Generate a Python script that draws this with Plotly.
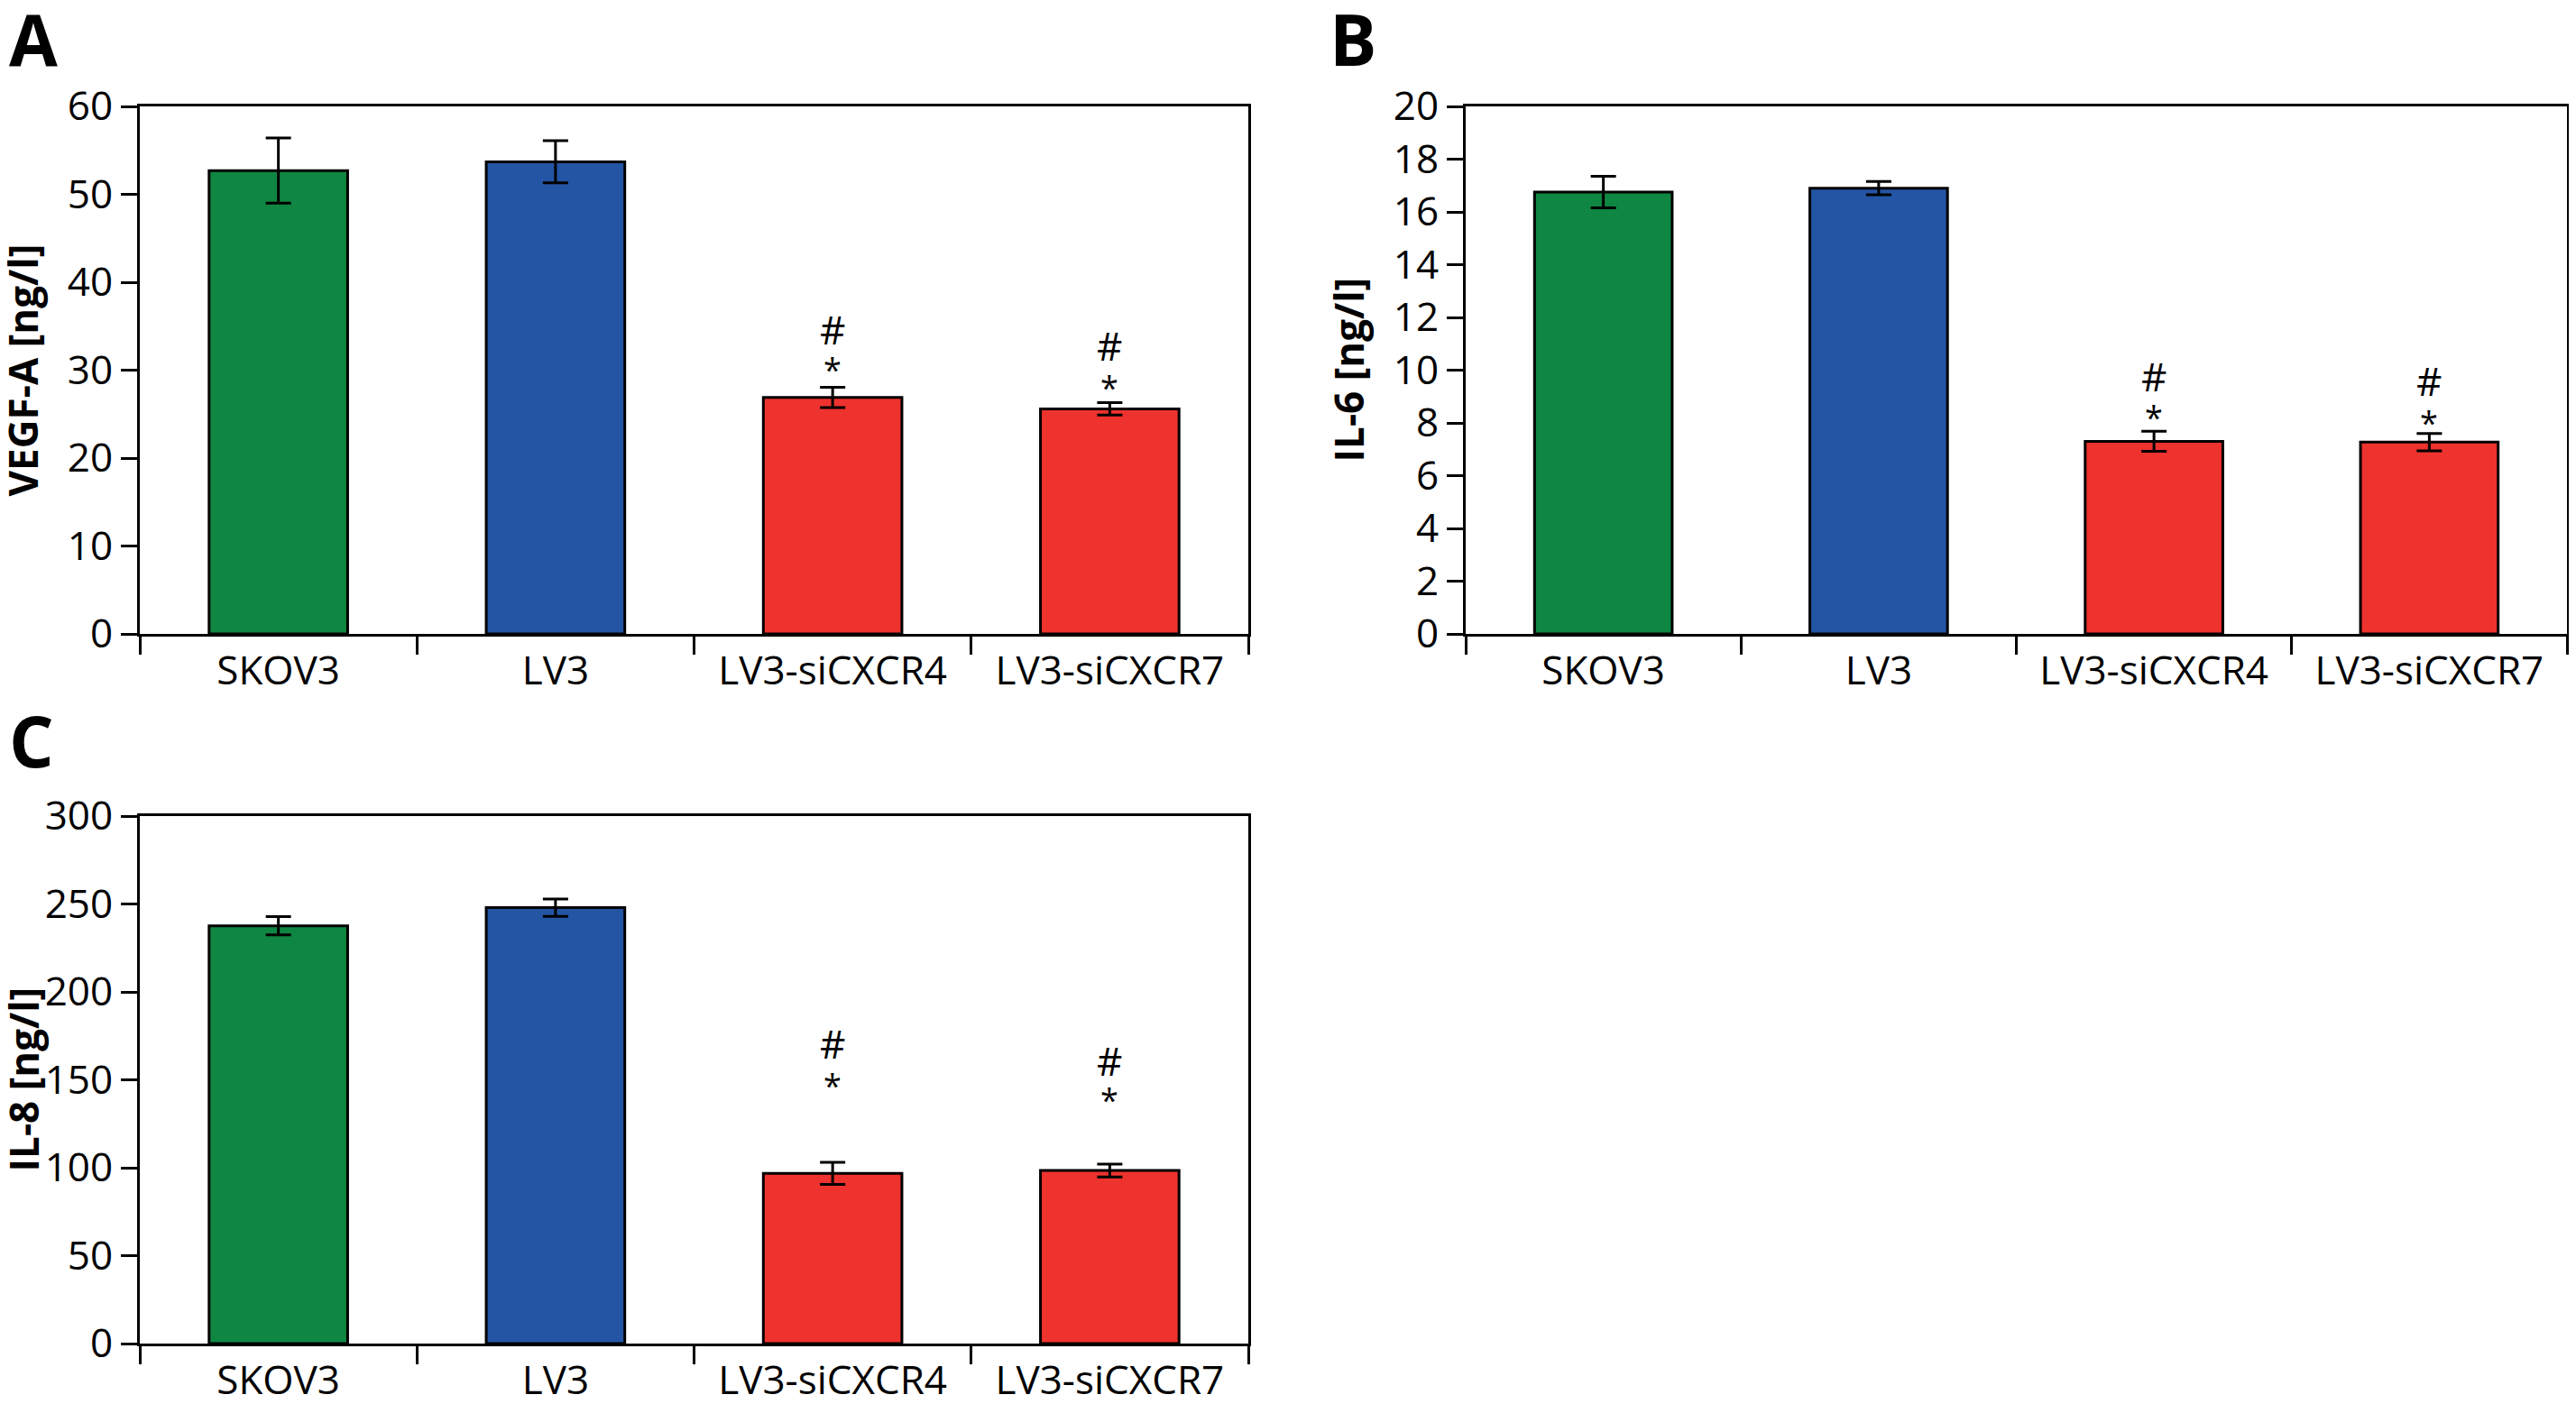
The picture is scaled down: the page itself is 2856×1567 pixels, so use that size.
import plotly.graph_objects as go

groups = ["SKOV3", "LV3", "LV3-siCXCR4", "LV3-siCXCR7"]
colors = ["#0f8641", "#2455a4", "#ee322e", "#ee322e"]

vegf_mean = [52.7, 53.7, 26.9, 25.6]
vegf_err = [3.7, 2.4, 1.15, 0.7]
il6_mean = [16.75, 16.9, 7.3, 7.27]
il6_err = [0.6, 0.25, 0.38, 0.33]
il8_mean = [237.6, 247.9, 96.8, 98.4]
il8_err = [5.2, 4.9, 6.3, 3.7]

# heights of the significance marks (data units)
vegf_hash = [None, None, 34.7, 32.8]
vegf_star = [None, None, 30.9, 28.9]
il6_hash = [None, None, 9.77, 9.6]
il6_star = [None, None, 8.48, 8.29]
il8_hash = [None, None, 171, 161]
il8_star = [None, None, 151, 143]

# page has an 8px body margin, so the figure is a bit smaller than the window
PAD = 8
W, H = 2856 - 2 * PAD, 1567 - 2 * PAD
FONT = "Open Sans, Noto Sans, sans-serif"
TICK_FONT = dict(family=FONT, size=44, color="black")


def fx(px):
    return min(1.0, max(0.0, (px - PAD) / W))


def fy(px):
    return min(1.0, max(0.0, 1 - (px - PAD) / H))


panels = [
    # letter, title, means, errs, hash, star, ymax, dtick, plot x px, plot y px, letter x/y px
    ("A", "VEGF-A [ng/l]", vegf_mean, vegf_err, vegf_hash, vegf_star, 60, 10, (155, 1384), (118, 703), (8, 8)),
    ("B", "IL-6 [ng/l]", il6_mean, il6_err, il6_hash, il6_star, 20, 2, (1625, 2846), (118, 703), (1472, 8)),
    ("C", "IL-8 [ng/l]", il8_mean, il8_err, il8_hash, il8_star, 300, 50, (155, 1384), (905, 1490), (8, 786)),
]

fig = go.Figure()
annotations = []
for i, (letter, title, means, errs, hashes, stars, ymax, dtick, xpx, ypx, lpx) in enumerate(panels):
    n = "" if i == 0 else str(i + 1)
    fig.add_trace(go.Bar(
        x=groups, y=means,
        marker=dict(color=colors, line=dict(color="black", width=3)),
        width=0.5,
        error_y=dict(type="data", array=errs, color="black", thickness=3, width=14),
        xaxis="x" + n, yaxis="y" + n,
        showlegend=False,
    ))
    fig.update_layout(**{
        "xaxis" + n: dict(
            domain=[fx(xpx[0]), fx(xpx[1])], anchor="y" + n, type="category",
            showline=True, linecolor="black", linewidth=3, mirror=True,
            ticks="outside", ticklen=20, tickwidth=3, tickcolor="black",
            tickson="boundaries", tickfont=TICK_FONT, showgrid=False,
        ),
        "yaxis" + n: dict(
            domain=[fy(ypx[1]), fy(ypx[0])], anchor="x" + n, range=[0, ymax], dtick=dtick,
            showline=True, linecolor="black", linewidth=3, mirror=True,
            ticks="outside", ticklen=18, tickwidth=3, tickcolor="black",
            tickfont=TICK_FONT, showgrid=False, zeroline=False,
        ),
    })
    # y axis title
    annotations.append(dict(
        text="<b>" + title + "</b>", textangle=-90,
        x=fx(xpx[0] - 130), y=fy((ypx[0] + ypx[1]) / 2), xref="paper", yref="paper",
        xanchor="center", yanchor="middle",
        showarrow=False, font=dict(family=FONT, size=44, color="black"),
    ))
    # panel letter
    annotations.append(dict(
        text="<b>" + letter + "</b>",
        x=fx(lpx[0]), y=fy(lpx[1]), yshift=20,
        xref="paper", yref="paper", xanchor="left", yanchor="top",
        showarrow=False, font=dict(family=FONT, size=78, color="black"),
    ))
    for g, hy, sy in zip(groups, hashes, stars):
        if hy is not None:
            annotations.append(dict(
                text="#", x=g, y=hy, xref="x" + n, yref="y" + n, showarrow=False,
                font=dict(family=FONT, size=44, color="black"),
            ))
            annotations.append(dict(
                text="*", x=g, y=sy, xref="x" + n, yref="y" + n, showarrow=False,
                yshift=-8,
                font=dict(family=FONT, size=36, color="black"),
            ))

fig.update_layout(
    width=W, height=H,
    margin=dict(l=0, r=0, t=0, b=0, autoexpand=False),
    plot_bgcolor="white", paper_bgcolor="white",
    annotations=annotations,
)

fig.write_html("out.html")
